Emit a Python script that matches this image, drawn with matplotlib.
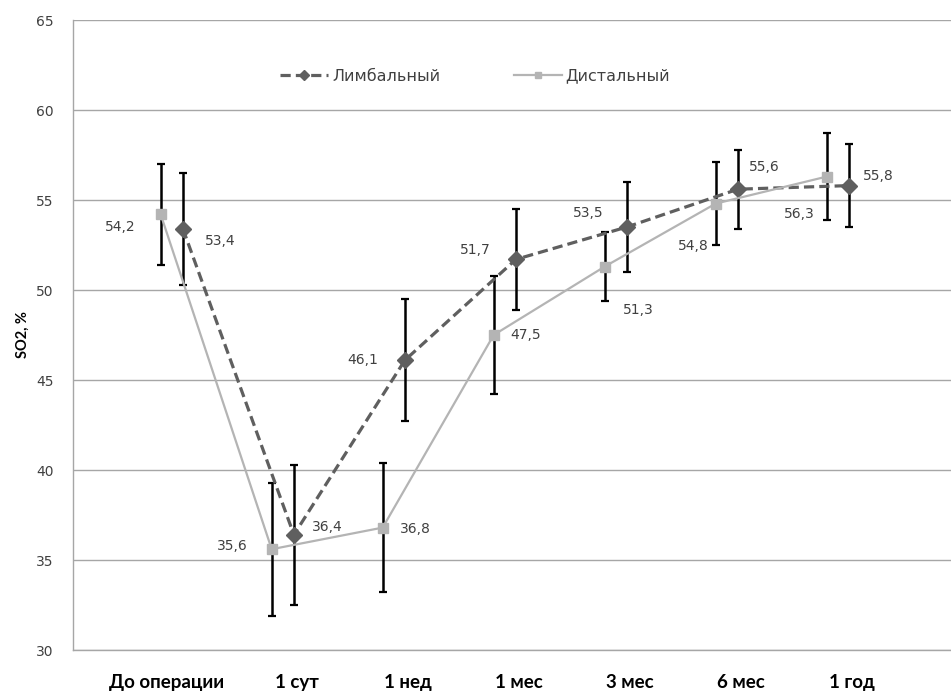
import matplotlib

matplotlib.use("Agg")
import matplotlib.pyplot as plt
import numpy as np

# Values
categories = ["До операции", "1 сут", "1 нед", "1 мес", "3 мес", "6 мес", "1 год"]
limb_mean = [53.4, 36.4, 46.1, 51.7, 53.5, 55.6, 55.8]
limb_err = [3.1, 3.9, 3.4, 2.8, 2.5, 2.2, 2.3]
dist_mean = [54.2, 35.6, 36.8, 47.5, 51.3, 54.8, 56.3]
dist_err = [2.8, 3.7, 3.6, 3.3, 1.9, 2.3, 2.4]
y_label = "SO2, %"
limb_name = "Лимбальный"
dist_name = "Дистальный"

# label placement (pixel offsets from point), picked by eye
limb_lbl_off = [(22, -12, "left"), (18, 8, "left"), (-27, 0, "right"), (-25, 9, "right"),
                (-23, 14, "right"), (11, 22, "left"), (14, 10, "left")]
dist_lbl_off = [(-25, -13, "right"), (-24, 3, "right"), (17, -1, "left"), (17, 0, "left"),
                (18, -43, "left"), (-7, -42, "right"), (-12, -37, "right")]

LIMB_COLOR = "#5f5f5f"
DIST_COLOR = "#b4b4b4"
GRID_COLOR = "#a6a6a6"
TEXT_COLOR = "#404040"


def fmt(v):
    return f"{v:.1f}".replace(".", ",")


def main():
    fig = plt.figure(figsize=(9.51, 6.92), dpi=100)
    ax = fig.add_axes([73 / 951, 42 / 692, 878 / 951, 630 / 692])

    x = np.arange(len(categories))
    x_limb = x + 0.2

    ax.errorbar(x, dist_mean, yerr=dist_err, fmt="none", ecolor="black",
                elinewidth=1.8, capsize=3.2, capthick=1.6, zorder=3)
    ax.errorbar(x_limb, limb_mean, yerr=limb_err, fmt="none", ecolor="black",
                elinewidth=1.8, capsize=3.2, capthick=1.6, zorder=3)

    ax.plot(x_limb, limb_mean, color=LIMB_COLOR, lw=2.3, ls=(0, (3.2, 1.6)),
            marker="D", ms=8, mfc=LIMB_COLOR, mec=LIMB_COLOR, label=limb_name, zorder=4)
    ax.plot(x, dist_mean, color=DIST_COLOR, lw=1.6, marker="s", ms=6.5,
            mfc=DIST_COLOR, mec=DIST_COLOR, label=dist_name, zorder=4)

    for xi, v, (dx, dy, ha) in zip(x_limb, limb_mean, limb_lbl_off):
        ax.annotate(fmt(v), (xi, v), xytext=(dx, dy), textcoords="offset pixels",
                    ha=ha, va="center", fontsize=10, color=TEXT_COLOR, zorder=5)
    for xi, v, (dx, dy, ha) in zip(x, dist_mean, dist_lbl_off):
        ax.annotate(fmt(v), (xi, v), xytext=(dx, dy), textcoords="offset pixels",
                    ha=ha, va="center", fontsize=10, color=TEXT_COLOR, zorder=5)

    ax.set_ylim(30, 65)
    ax.set_yticks(np.arange(30, 66, 5))
    ax.set_xlim(-0.79, 7.12)
    tick_pos = x + 0.225
    tick_pos[0] = 0.05
    ax.set_xticks(tick_pos)
    ax.set_xticklabels(categories, fontfamily="Lato", fontweight="bold", fontsize=13.5, color="black")
    ax.tick_params(axis="x", length=0, pad=17)
    ax.tick_params(axis="y", length=0, pad=14, labelsize=10, labelcolor=TEXT_COLOR)

    ax.grid(axis="y", color=GRID_COLOR, lw=1.0)
    ax.set_axisbelow(True)
    for side in ("top", "right"):
        ax.spines[side].set_visible(False)
    for side in ("left", "bottom"):
        ax.spines[side].set_color(GRID_COLOR)
        ax.spines[side].set_linewidth(1.0)

    fig.text(23 / 951, 1 - 335 / 692, y_label, rotation=90, ha="center", va="center",
             fontfamily="Lato", fontweight="bold", fontsize=10.5, color="black")

    leg = ax.legend(loc="center left", bbox_to_anchor=(0.236, 0.911), ncol=2, frameon=False,
                    prop={"family": "DejaVu Sans", "size": 11.5},
                    handlelength=3.0, handletextpad=0.25, columnspacing=4.6,
                    borderaxespad=0, borderpad=0, markerscale=0.65)
    for t in leg.get_texts():
        t.set_color(TEXT_COLOR)

    fig.savefig("out.png", dpi=100)
    plt.close(fig)


if __name__ == "__main__":
    main()
